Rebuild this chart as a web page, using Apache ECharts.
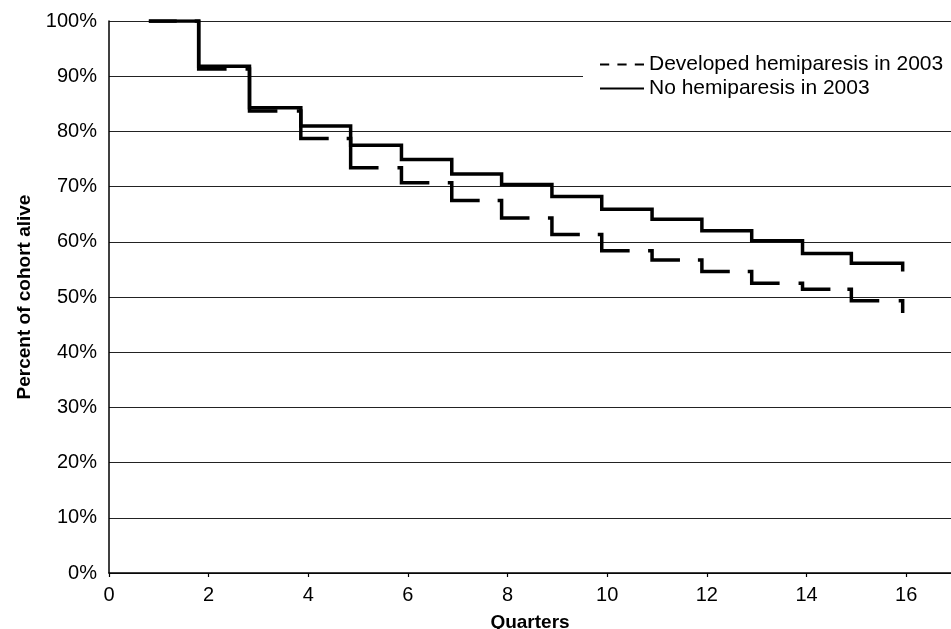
<!DOCTYPE html>
<html>
<head>
<meta charset="utf-8">
<script src="https://cdn.jsdelivr.net/npm/echarts@6/dist/echarts.min.js"></script>
<style>
html,body{margin:0;padding:0;background:#fff;}
#chart{width:951px;height:629px;}
</style>
</head>
<body>
<div id="chart"></div>
<script>
// Quarter at which each step (drop) occurs; first entry is the start of follow-up
const quarters = [0.8, 1.8, 2.82, 3.85, 4.85, 5.87, 6.88, 7.88, 8.89, 9.89, 10.9, 11.9, 12.9, 13.92, 14.9, 15.93];
// Percent alive after each step
const noHemiparesis = [100, 91.8, 84.3, 81.0, 77.5, 74.9, 72.3, 70.4, 68.2, 65.9, 64.1, 62.0, 60.2, 57.9, 56.1, 54.6];
const developedHemiparesis = [100, 91.3, 83.7, 78.7, 73.4, 70.7, 67.5, 64.3, 61.3, 58.4, 56.7, 54.6, 52.5, 51.4, 49.3, 47.1];
const seriesNames = ['Developed hemiparesis in 2003', 'No hemiparesis in 2003'];
const yTicks = [0, 10, 20, 30, 40, 50, 60, 70, 80, 90, 100];
const xTicks = [0, 2, 4, 6, 8, 10, 12, 14, 16];

// style of the printed dashes (in quarters)
const STUB = 0.08, RUN = 0.56;

const solidData = quarters.map((q, i) => [q, noHemiparesis[i]]);

// dashed step curve: each dash = short stub at old level, the drop, a run at new level
const dashedData = [];
dashedData.push([quarters[0], developedHemiparesis[0]]);
dashedData.push([quarters[0] + RUN, developedHemiparesis[0]]);
dashedData.push(null);
for (let i = 1; i < quarters.length; i++) {
  dashedData.push([quarters[i] - STUB, developedHemiparesis[i - 1]]);
  dashedData.push([quarters[i], developedHemiparesis[i - 1]]);
  dashedData.push([quarters[i], developedHemiparesis[i]]);
  if (i < quarters.length - 1) dashedData.push([quarters[i] + RUN, developedHemiparesis[i]]);
  dashedData.push(null);
}

const FONT = '"Liberation Sans", Arial, Helvetica, sans-serif';
const DASH_ICON = 'path://M0,0h9v2h-9zM17,0h9v2h-9zM34,0h9v2h-9z';
const SOLID_ICON = 'path://M0,0h43v2h-43z';
const chart = echarts.init(document.getElementById('chart'), null, {renderer: 'canvas'});
chart.setOption({
  backgroundColor: '#fff',
  animation: false,
  textStyle: {fontFamily: FONT, color: '#000'},
  grid: {left: 109, right: 0, top: 21, bottom: 56, containLabel: false, outerBoundsMode: 'none'},
  xAxis: {
    type: 'value', min: 0, max: 16.9, interval: 2,
    name: 'Quarters', nameLocation: 'middle', nameGap: 40,
    nameTextStyle: {fontFamily: FONT, fontSize: 19, fontWeight: 'bold', color: '#000'},
    axisLine: {show: true, onZero: false, lineStyle: {color: '#000', width: 1.5}},
    axisTick: {show: true, length: 4, lineStyle: {color: '#000', width: 1.2}},
    axisLabel: {fontFamily: FONT, fontSize: 20, color: '#000', margin: 12, showMaxLabel: false,
      formatter: v => xTicks.includes(v) ? String(v) : ''},
    splitLine: {show: false}
  },
  yAxis: {
    type: 'value', min: 0, max: 100, interval: 10,
    name: 'Percent of cohort alive', nameLocation: 'middle', nameGap: 75, nameRotate: 90,
    nameTextStyle: {fontFamily: FONT, fontSize: 19, fontWeight: 'bold', color: '#000'},
    axisLine: {show: true, lineStyle: {color: '#000', width: 1.5}},
    axisTick: {show: false},
    axisLabel: {fontFamily: FONT, fontSize: 20, color: '#000', margin: 12,
      formatter: v => yTicks.includes(v) ? v + '%' : ''},
    splitLine: {show: true, lineStyle: {color: '#222', width: 1}}
  },
  legend: {
    orient: 'vertical', left: 583, top: 44,
    backgroundColor: '#fff',
    padding: [10, 40, 10, 17],
    itemWidth: 44, itemHeight: 3, itemGap: 3,
    textStyle: {fontFamily: FONT, fontSize: 21, color: '#000'},
    data: [
      {name: seriesNames[0], icon: DASH_ICON, itemStyle: {color: '#000'}},
      {name: seriesNames[1], icon: SOLID_ICON, itemStyle: {color: '#000'}}
    ]
  },
  series: [
    {
      name: seriesNames[0], type: 'line', data: dashedData, connectNulls: false,
      showSymbol: false, symbol: 'none', z: 3,
      lineStyle: {color: '#000', width: 3.5, type: 'solid', cap: 'butt', join: 'miter'},
      itemStyle: {color: '#000'}
    },
    {
      name: seriesNames[1], type: 'line', step: 'end', data: solidData,
      showSymbol: false, symbol: 'none', z: 4,
      lineStyle: {color: '#000', width: 3.5, type: 'solid', cap: 'butt', join: 'miter'},
      itemStyle: {color: '#000'}
    }
  ]
});
</script>
</body>
</html>
